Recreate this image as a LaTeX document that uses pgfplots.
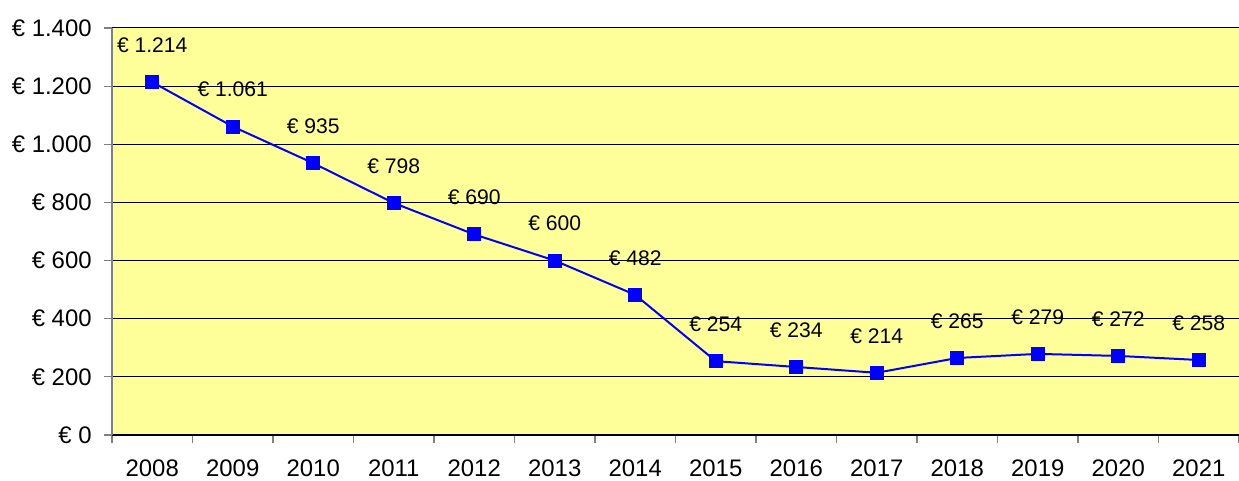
\documentclass[border=0pt]{standalone}
\usepackage{pgfplots}
\pgfplotsset{compat=1.18}
\usepackage{fontspec}
\setmainfont{Liberation Sans}
\definecolor{bgyellow}{RGB}{255,255,153}
\definecolor{serblue}{RGB}{0,0,255}
\begin{document}
\fontsize{12}{14}\selectfont
\begin{tikzpicture}
\begin{axis}[
  scale only axis,
  width=563.5bp, height=203.5bp,
  xmin=-0.5, xmax=13.5,
  ymin=0, ymax=1400,
  axis background/.style={fill=bgyellow},
  axis x line*=bottom,
  axis y line*=left,
  x axis line style={black, line width=0.6bp, -},
  y axis line style={gray, line width=0.6bp, -},
  xtick={0,...,13},
  xticklabels={2008,2009,2010,2011,2012,2013,2014,2015,2016,2017,2018,2019,2020,2021},
  major x tick style={draw=none},
  minor xtick={-0.5,0.5,...,13.5},
  minor x tick style={gray, line width=0.6bp},
  minor tick length=4bp,
  ytick={0,200,...,1400},
  yticklabels={€ 0,€ 200,€ 400,€ 600,€ 800,€ 1.000,€ 1.200,€ 1.400},
  major tick length=4bp,
  y tick style={gray, line width=0.6bp},
  tick align=outside,
  ymajorgrids,
  major grid style={black, line width=0.5bp},
  x tick label style={font=\fontsize{12}{14}\selectfont, yshift=-4bp},
  y tick label style={font=\fontsize{12}{14}\selectfont, xshift=-2bp},
  clip=false,
]
\addplot[color=serblue, line width=1bp, mark=square*, mark size=3bp,
  mark options={fill=serblue, draw=serblue},
  point meta=explicit symbolic,
  nodes near coords={€ \pgfplotspointmeta},
  every node near coord/.append style={anchor=center, yshift=18.5bp, black, font=\fontsize{10.6}{13}\selectfont},
] coordinates {
  (0,1214) [1.214]
  (1,1061) [1.061]
  (2,935) [935]
  (3,798) [798]
  (4,690) [690]
  (5,600) [600]
  (6,482) [482]
  (7,254) [254]
  (8,234) [234]
  (9,214) [214]
  (10,265) [265]
  (11,279) [279]
  (12,272) [272]
  (13,258) [258]
};
\coordinate (ll) at (rel axis cs:0,0);
\coordinate (ur) at (rel axis cs:1,1);
\end{axis}
\pgfresetboundingbox
\path ([shift={(-56bp,-23bp)}]ll) rectangle ([shift={(0bp,14bp)}]ur);
\end{tikzpicture}
\end{document}
